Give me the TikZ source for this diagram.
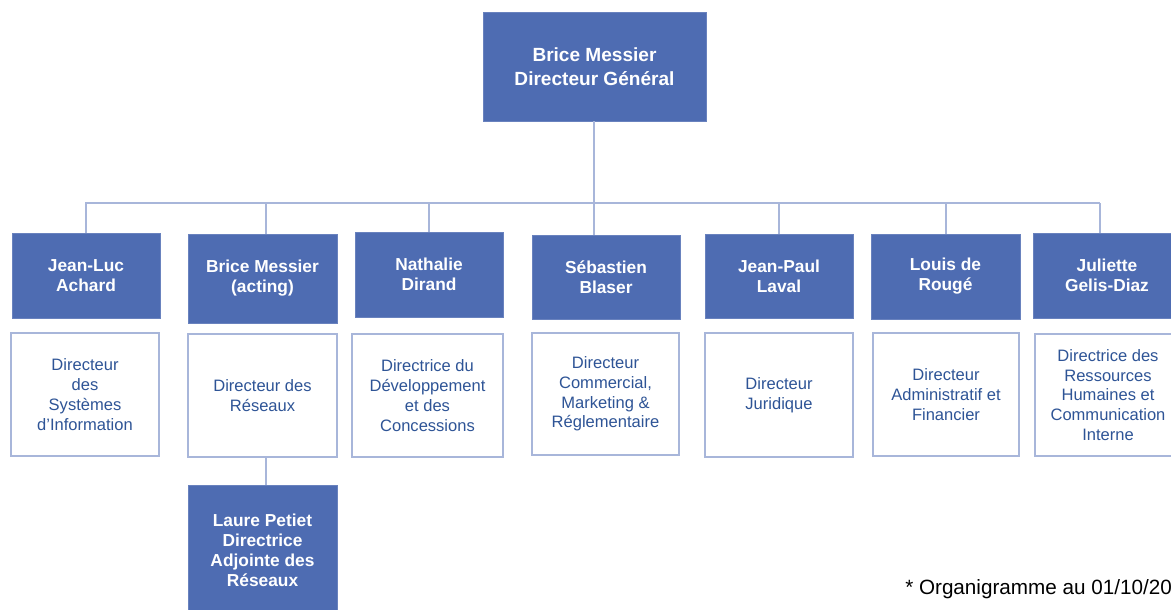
\documentclass[tikz,border=0pt]{standalone}
\usepackage{fontspec}
\setmainfont{Liberation Sans}
\definecolor{boxblue}{RGB}{78,108,178}
\definecolor{linecol}{RGB}{168,182,218}
\definecolor{txtblue}{RGB}{46,84,150}
\begin{document}
\begin{tikzpicture}[x=0.75pt,y=-0.75pt,
  bx/.style 2 args={minimum width=#1*0.75pt, minimum height=#2*0.75pt},
  bluebox/.style={rectangle, fill=boxblue, draw=boxblue!85!white, line width=0.6pt, inner sep=0pt,
     text=white, align=center, font=\fontsize{13}{15}\selectfont\bfseries},
  topbox/.style={bluebox, font=\fontsize{14.3}{18}\selectfont\bfseries},
  whitebox/.style={rectangle, fill=white, draw=linecol, line width=1.1pt, inner sep=0pt,
     text=txtblue, align=center, font=\fontsize{12.4}{14.8}\selectfont},
  conn/.style={draw=linecol, line width=1.1pt}]
\useasboundingbox (0,0) rectangle (1171,610);
% top
\node[topbox, bx={223}{109}] (top) at (594.5,66.5) {Brice Messier\\Directeur Général};
% level 2
\node[bluebox, bx={148}{85}] (n1) at (86,275.5) {Jean-Luc\\Achard};
\node[bluebox, bx={149}{89}] (n2) at (262.5,278.5) {Brice Messier\\(acting)};
\node[bluebox, bx={148}{85}] (n3) at (429,274.5) {Nathalie\\Dirand};
\node[bluebox, bx={148}{84}] (n4) at (606,277) {Sébastien\\Blaser};
\node[bluebox, bx={148}{84}] (n5) at (779,276) {Jean-Paul\\Laval};
\node[bluebox, bx={149}{85}] (n6) at (945.5,276.5) {Louis de\\Rougé};
\node[bluebox, bx={148}{85}] (n7) at (1107,275.5) {Juliette\\Gelis-Diaz};
% descriptions
\node[whitebox, bx={148}{123}] (w1) at (85,394.5) {Directeur\\des\\Systèmes\\d’Information};
\node[whitebox, bx={149}{123}] (w2) at (262.5,395.5) {Directeur des\\Réseaux};
\node[whitebox, bx={151}{123}] (w3) at (427.5,395.5) {Directrice du\\Développement\\et des\\Concessions};
\node[whitebox, bx={147}{122}] (w4) at (605.5,394) {Directeur\\Commercial,\\Marketing \&\\Réglementaire};
\node[whitebox, bx={148}{124}] (w5) at (779,395) {Directeur\\Juridique};
\node[whitebox, bx={146}{123}] (w6) at (946,394.5) {Directeur\\Administratif et\\Financier};
\node[whitebox, bx={146}{122}] (w7) at (1108,395) {Directrice des\\Ressources\\Humaines et\\Communication\\Interne};
% deputy
\node[bluebox, bx={149}{130}] (lp) at (262.5,550) {Laure Petiet\\Directrice\\Adjointe des\\Réseaux};
% footnote
\node[anchor=base west, inner sep=0pt, font=\fontsize{15.5}{18}\selectfont] (foot) at (905,594) {* Organigramme au 01/10/20};
% connectors
\coordinate (hl) at (85,203);
\coordinate (hr) at (1100,203);
\coordinate (d1) at (86,203);
\coordinate (d2) at (266,203);
\coordinate (d3) at (429,203);
\coordinate (d5) at (779,203);
\coordinate (d6) at (946,203);
\coordinate (d7) at (1100,203);
\draw[conn] (hl) -- (hr);
\draw[conn] (top.south -| 594,0) -- (594,0 |- n4.north);
\foreach \d/\n in {d1/n1,d2/n2,d3/n3,d5/n5,d6/n6,d7/n7}
  \draw[conn] (\d) -- (\d |- \n.north);
\draw[conn] (w2.south -| 266,0) -- (266,0 |- lp.north);
\end{tikzpicture}
\end{document}
